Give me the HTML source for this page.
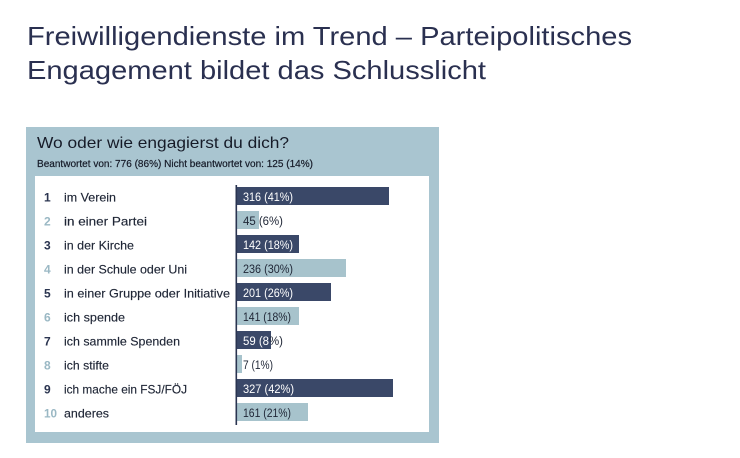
<!DOCTYPE html>
<html><head><meta charset="utf-8"><style>
html,body{margin:0;padding:0;background:#fff;}
svg{display:block;}
text{font-family:"Liberation Sans",sans-serif;}
</style></head><body>
<svg width="740" height="458" viewBox="0 0 740 458" xmlns="http://www.w3.org/2000/svg">
<rect width="740" height="458" fill="#fff"/>
<text x="27" y="45" font-size="26" fill="#2a3050" textLength="605" lengthAdjust="spacingAndGlyphs">Freiwilligendienste im Trend – Parteipolitisches</text>
<text x="27" y="79" font-size="26" fill="#2a3050" textLength="459" lengthAdjust="spacingAndGlyphs">Engagement bildet das Schlusslicht</text>

<rect x="26" y="127" width="413" height="316" fill="#a9c5d0"/>
<rect x="35" y="176" width="394" height="256" fill="#fff"/>
<text x="37" y="148" font-size="16" fill="#161b28" textLength="252" lengthAdjust="spacingAndGlyphs">Wo oder wie engagierst du dich?</text>
<text x="37" y="167" font-size="10" fill="#161b28" stroke="#161b28" stroke-width="0.2" textLength="276" lengthAdjust="spacingAndGlyphs">Beantwortet von: 776 (86%)  Nicht beantwortet von: 125 (14%)</text>

<g font-size="12" fill="#1e2535">
<!-- bars -->
<rect x="237" y="187" width="152" height="18" fill="#3a4868"/>
<rect x="237" y="211" width="22" height="18" fill="#a7c3cc"/>
<rect x="237" y="235" width="62" height="18" fill="#3a4868"/>
<rect x="237" y="259" width="109" height="18" fill="#a7c3cc"/>
<rect x="237" y="283" width="94" height="18" fill="#3a4868"/>
<rect x="237" y="307" width="62" height="18" fill="#a7c3cc"/>
<rect x="237" y="331" width="34" height="18" fill="#3a4868"/>
<rect x="237" y="355" width="5" height="18" fill="#a7c3cc"/>
<rect x="237" y="379" width="156" height="18" fill="#3a4868"/>
<rect x="237" y="403" width="71" height="18" fill="#a7c3cc"/>
<rect x="235.5" y="185" width="1.6" height="240" fill="#2a3450"/>

<!-- numbers -->
<g font-weight="bold" font-size="12">
<text x="44" y="201.5" fill="#2b3550">1</text>
<text x="44" y="225.5" fill="#9ab8c4">2</text>
<text x="44" y="249.5" fill="#2b3550">3</text>
<text x="44" y="273.5" fill="#9ab8c4">4</text>
<text x="44" y="297.5" fill="#2b3550">5</text>
<text x="44" y="321.5" fill="#9ab8c4">6</text>
<text x="44" y="345.5" fill="#2b3550">7</text>
<text x="44" y="369.5" fill="#9ab8c4">8</text>
<text x="44" y="393.5" fill="#2b3550">9</text>
<text x="44" y="417.5" fill="#9ab8c4" textLength="13" lengthAdjust="spacingAndGlyphs">10</text>
</g>

<!-- labels -->
<g stroke="#1e2535" stroke-width="0.15">
<text x="64" y="201.5" textLength="52" lengthAdjust="spacingAndGlyphs">im Verein</text>
<text x="64" y="225.5" textLength="83" lengthAdjust="spacingAndGlyphs">in einer Partei</text>
<text x="64" y="249.5" textLength="70" lengthAdjust="spacingAndGlyphs">in der Kirche</text>
<text x="64" y="273.5" textLength="123" lengthAdjust="spacingAndGlyphs">in der Schule oder Uni</text>
<text x="64" y="297.5" textLength="166" lengthAdjust="spacingAndGlyphs">in einer Gruppe oder Initiative</text>
<text x="64" y="321.5" textLength="61" lengthAdjust="spacingAndGlyphs">ich spende</text>
<text x="64" y="345.5" textLength="116" lengthAdjust="spacingAndGlyphs">ich sammle Spenden</text>
<text x="64" y="369.5" textLength="45" lengthAdjust="spacingAndGlyphs">ich stifte</text>
<text x="64" y="393.5" textLength="123" lengthAdjust="spacingAndGlyphs">ich mache ein FSJ/FÖJ</text>
<text x="64" y="417.5" textLength="45" lengthAdjust="spacingAndGlyphs">anderes</text>
</g>

<!-- values -->
<g font-size="11.5">
<text x="243" y="201" fill="#fff" textLength="50" lengthAdjust="spacingAndGlyphs">316 (41%)</text>
<text x="243" y="225" fill="#1e2535" textLength="40" lengthAdjust="spacingAndGlyphs">45 (6%)</text>
<text x="243" y="249" fill="#fff" textLength="50" lengthAdjust="spacingAndGlyphs">142 (18%)</text>
<text x="243" y="273" fill="#1e2535" textLength="50" lengthAdjust="spacingAndGlyphs">236 (30%)</text>
<text x="243" y="297" fill="#fff" textLength="50" lengthAdjust="spacingAndGlyphs">201 (26%)</text>
<text x="243" y="321" fill="#1e2535" textLength="48" lengthAdjust="spacingAndGlyphs">141 (18%)</text>
<text x="243" y="345" fill="#fff" textLength="40" lengthAdjust="spacingAndGlyphs"><tspan fill="#fff">59 (8</tspan><tspan fill="#1e2535">%)</tspan></text>
<text x="243" y="369" fill="#1e2535" textLength="30" lengthAdjust="spacingAndGlyphs">7 (1%)</text>
<text x="243" y="393" fill="#fff" textLength="51" lengthAdjust="spacingAndGlyphs">327 (42%)</text>
<text x="243" y="417" fill="#1e2535" textLength="48" lengthAdjust="spacingAndGlyphs">161 (21%)</text>
</g>
</g>
</svg>
</body></html>
